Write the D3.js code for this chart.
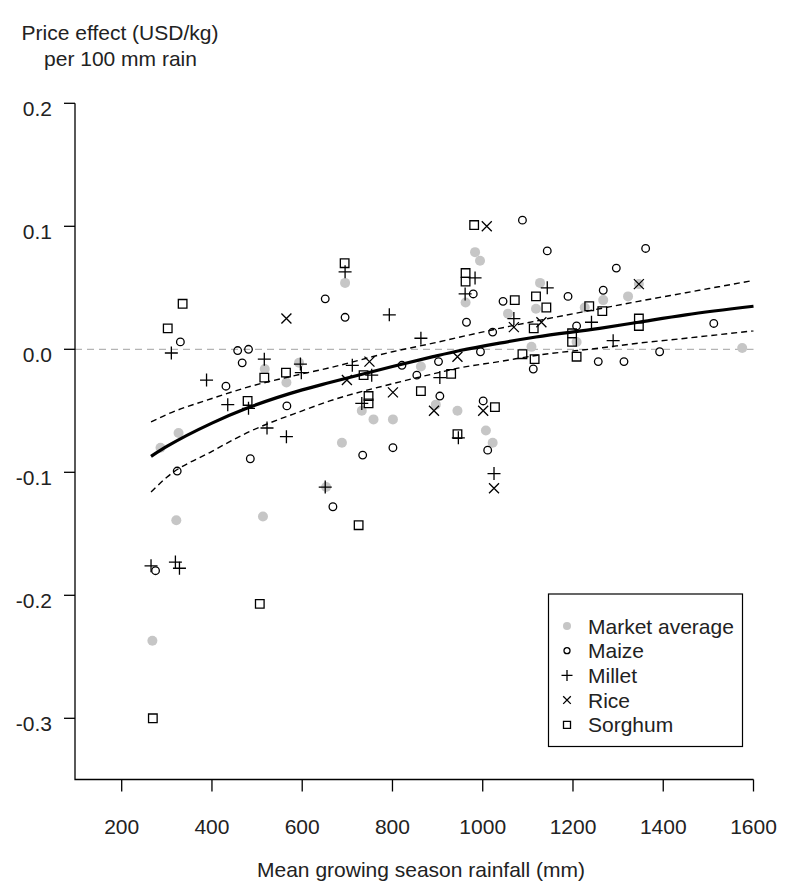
<!DOCTYPE html>
<html lang="en">
<head>
    <meta charset="UTF-8">
    <title>Price effect per 100 mm rain</title>
    <script src="https://d3js.org/d3.v7.min.js"></script>
    <style>
        body { margin: 0; background: #fff; }
        svg { display: block; }
        text { font-family: "Liberation Sans", Arial, sans-serif; fill: #222; }
        .fit { fill: none; stroke: #000; }
        .pt { fill: none; stroke: #000; stroke-width: 1.3; }
    </style>
</head>
<body>
<svg id="chart" width="785" height="883"></svg>
<script>
    // Points: [rainfall mm, price effect]
    const marketAverage = [[517,-0.016],[593,-0.011],[565,-0.027],[326,-0.068],[286,-0.080],[321,-0.139],
        [513,-0.136],[268,-0.237],[695,0.054],[983,0.079],[994,0.072],[962,0.038],[863,-0.014],[732,-0.050],
        [758,-0.057],[801,-0.057],[896,-0.045],[944,-0.050],[1007,-0.066],[1022,-0.076],[688,-0.076],
        [653,-0.112],[1127,0.054],[1118,0.033],[1056,0.029],[1226,0.034],[1208,0.006],[1108,0.002],
        [1346,0.053],[1322,0.043],[1267,0.040],[1575,0.001]];
    const maize = [[330,0.006],[651,0.041],[457,-0.001],[481,0.000],[467,-0.011],[431,-0.030],[566,-0.046],
        [485,-0.089],[323,-0.099],[275,-0.180],[695,0.026],[979,0.045],[964,0.022],[1022,0.014],[995,-0.002],
        [821,-0.013],[902,-0.010],[854,-0.021],[905,-0.038],[1001,-0.042],[1011,-0.082],[734,-0.086],
        [801,-0.080],[668,-0.128],[1088,0.105],[1143,0.080],[1296,0.066],[1267,0.048],[1189,0.043],
        [1045,0.039],[1208,0.019],[1112,-0.016],[1256,-0.010],[1361,0.082],[1512,0.021],[1392,-0.002],
        [1313,-0.010]];
    const millet = [[310,-0.003],[516,-0.008],[596,-0.012],[598,-0.019],[388,-0.025],[435,-0.045],
        [481,-0.048],[522,-0.064],[565,-0.071],[651,-0.112],[265,-0.176],[319,-0.173],[328,-0.178],
        [695,0.063],[793,0.028],[983,0.058],[961,0.045],[863,0.009],[711,-0.013],[754,-0.021],[905,-0.023],
        [732,-0.044],[946,-0.072],[1025,-0.101],[1143,0.050],[1069,0.025],[1241,0.022],[1289,0.007]];
    const rice = [[565,0.025],[749,-0.010],[699,-0.025],[944,-0.006],[801,-0.035],[892,-0.050],
        [1001,-0.050],[1025,-0.113],[1009,0.100],[1069,0.018],[1130,0.022],[1346,0.053]];
    const sorghum = [[335,0.037],[302,0.017],[564,-0.019],[516,-0.023],[479,-0.042],[506,-0.207],
        [269,-0.300],[694,0.070],[962,0.062],[962,0.055],[736,-0.021],[930,-0.020],[863,-0.034],
        [747,-0.038],[747,-0.044],[1027,-0.047],[944,-0.069],[725,-0.143],[981,0.101],[1071,0.040],
        [1118,0.043],[1141,0.034],[1236,0.035],[1265,0.031],[1113,0.017],[1198,0.013],[1198,0.006],
        [1088,-0.004],[1115,-0.008],[1208,-0.006],[1346,0.025],[1346,0.019]];

    // fitted curve and its confidence band
    const fitRain  = [265, 300, 400, 477, 600, 661, 800, 890, 950, 1037, 1118, 1259, 1345, 1450, 1600];
    const fitMid   = [-0.087,-0.079,-0.060,-0.048,-0.033,-0.027,-0.014,-0.006,-0.001,0.005,0.010,0.017,0.022,0.028,0.035];
    const fitUpper = [-0.059,-0.053,-0.040,-0.031,-0.020,-0.015,-0.002,0.005,0.010,0.017,0.023,0.033,0.039,0.046,0.056];
    const fitLower = [-0.116,-0.104,-0.083,-0.068,-0.050,-0.042,-0.028,-0.020,-0.015,-0.010,-0.005,0.001,0.005,0.009,0.015];

    const xTicks = [200, 400, 600, 800, 1000, 1200, 1400, 1600];
    const yTicks = [0.2, 0.1, 0.0, -0.1, -0.2, -0.3];
    const legendLabels = ["Market average", "Maize", "Millet", "Rice", "Sorghum"];

    const svg = d3.select("#chart");
    const x = d3.scaleLinear().domain([200, 1600]).range([121.7, 753.5]);
    const y = d3.scaleLinear().domain([-0.3, 0.2]).range([718.3, 103.3]);
    const left = 75, bottom = 779.5;

    // zero reference line
    svg.append("line")
        .attr("x1", left).attr("x2", x(1600))
        .attr("y1", y(0)).attr("y2", y(0))
        .attr("stroke", "#b4b4b4").attr("stroke-width", 1.2)
        .attr("stroke-dasharray", "7,5");

    // axes, R style L box
    svg.append("path")
        .attr("d", `M${left},${y(0.2)}V${bottom}H${x(1600)}`)
        .attr("fill", "none").attr("stroke", "#000").attr("stroke-width", 1.3);

    const yAxis = svg.append("g");
    yAxis.selectAll("line").data(yTicks).join("line")
        .attr("x1", left - 11).attr("x2", left)
        .attr("y1", d => y(d)).attr("y2", d => y(d))
        .attr("stroke", "#000").attr("stroke-width", 1.3);
    yAxis.selectAll("text").data(yTicks).join("text")
        .attr("x", 52).attr("y", d => y(d) + 12.5)
        .attr("text-anchor", "end").attr("font-size", 21)
        .text(d => d3.format(".1f")(d).replace("−", "-"));

    const xAxis = svg.append("g");
    xAxis.selectAll("line").data(xTicks).join("line")
        .attr("x1", d => x(d)).attr("x2", d => x(d))
        .attr("y1", bottom).attr("y2", bottom + 12)
        .attr("stroke", "#000").attr("stroke-width", 1.3);
    xAxis.selectAll("text").data(xTicks).join("text")
        .attr("x", d => x(d)).attr("y", 834)
        .attr("text-anchor", "middle").attr("font-size", 21)
        .text(d => d);

    svg.append("text").attr("x", 421).attr("y", 877)
        .attr("text-anchor", "middle").attr("font-size", 21)
        .text("Mean growing season rainfall (mm)");
    svg.append("text").attr("x", 120).attr("y", 40)
        .attr("text-anchor", "middle").attr("font-size", 21)
        .text("Price effect (USD/kg)");
    svg.append("text").attr("x", 120.5).attr("y", 66)
        .attr("text-anchor", "middle").attr("font-size", 21)
        .text("per 100 mm rain");

    // symbol drawers
    function plus(h) { return `M${-h},0H${h}M0,${-h}V${h}`; }
    function cross(h) { return `M${-h},${-h}L${h},${h}M${-h},${h}L${h},${-h}`; }
    function square(h) { return `M${-h},${-h}H${h}V${h}H${-h}Z`; }

    const pts = svg.append("g");
    pts.selectAll(".mkt").data(marketAverage).join("circle")
        .attr("class", "mkt")
        .attr("cx", d => x(d[0])).attr("cy", d => y(d[1])).attr("r", 5)
        .attr("fill", "#c6c6c6");
    pts.selectAll(".maize").data(maize).join("circle")
        .attr("class", "pt maize")
        .attr("cx", d => x(d[0])).attr("cy", d => y(d[1])).attr("r", 3.8);
    pts.selectAll(".millet").data(millet).join("path")
        .attr("class", "pt millet")
        .attr("transform", d => `translate(${x(d[0])},${y(d[1])})`)
        .attr("d", plus(6.5));
    pts.selectAll(".rice").data(rice).join("path")
        .attr("class", "pt rice")
        .attr("transform", d => `translate(${x(d[0])},${y(d[1])})`)
        .attr("d", cross(5));
    pts.selectAll(".sorghum").data(sorghum).join("path")
        .attr("class", "pt sorghum")
        .attr("transform", d => `translate(${x(d[0])},${y(d[1])})`)
        .attr("d", square(4.3));

    // fitted curve + band
    const line = d3.line().x(d => x(d[0])).y(d => y(d[1])).curve(d3.curveMonotoneX);
    svg.append("path").attr("class", "fit")
        .attr("d", line(fitRain.map((r, i) => [r, fitMid[i]])))
        .attr("stroke-width", 3.2);
    [fitUpper, fitLower].forEach(band => {
        svg.append("path").attr("class", "fit")
            .attr("d", line(fitRain.map((r, i) => [r, band[i]])))
            .attr("stroke-width", 1.4).attr("stroke-dasharray", "6,4");
    });

    // legend
    const lg = svg.append("g");
    lg.append("rect").attr("x", 548.5).attr("y", 594).attr("width", 194).attr("height", 152.5)
        .attr("fill", "#fff").attr("stroke", "#000").attr("stroke-width", 1.2);
    const rows = lg.selectAll(".row").data(legendLabels).join("g")
        .attr("class", "row")
        .attr("transform", (d, i) => `translate(567,${626 + i * 24.7})`);
    rows.append("text").attr("x", 21).attr("y", 7.5).attr("font-size", 21).text(d => d);
    rows.each(function(d, i) {
        const g = d3.select(this);
        if (i === 0) g.append("circle").attr("r", 4).attr("fill", "#c6c6c6");
        else if (i === 1) g.append("circle").attr("class", "pt").attr("r", 3);
        else if (i === 2) g.append("path").attr("class", "pt").attr("d", plus(5.5));
        else if (i === 3) g.append("path").attr("class", "pt").attr("d", cross(3.8));
        else g.append("path").attr("class", "pt").attr("d", square(3.5));
    });
</script>
</body>
</html>
